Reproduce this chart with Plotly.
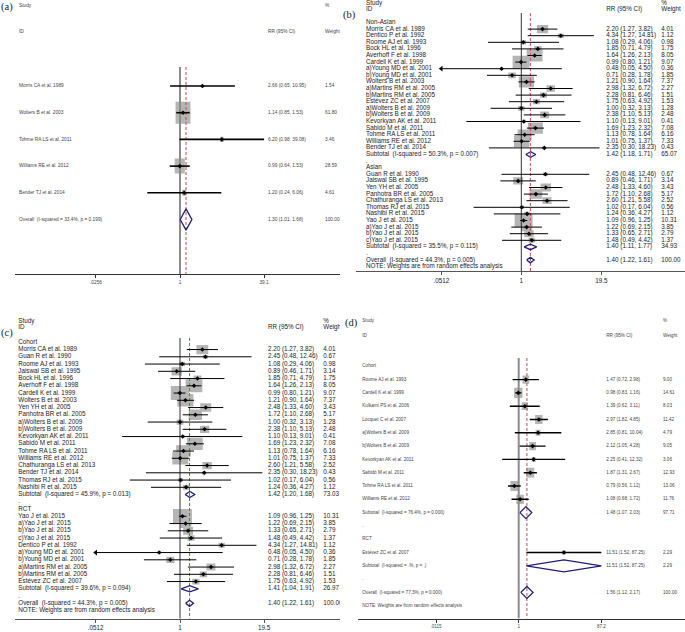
import math
import plotly.graph_objects as go

W, H = 685, 632

# ---------------- data ----------------
# studies shared by panels (b) and (c)
bc_names = ["Morris CA et al. 1989", "Dentico P et al. 1992", "Roome AJ et al. 1993",
            "Bock HL et al. 1996", "Averhoff F et al. 1998", "Cardell K et al. 1999",
            "a)Young MD et al. 2001", "b)Young MD et al. 2001", "Wolters B et al. 2003",
            "a)Martins RM et al. 2005", "b)Martins RM et al. 2005", "Estévez ZC et al. 2007",
            "a)Wolters B et al. 2009", "b)Wolters B et al. 2009", "Kevorkyan AK et al. 2011",
            "Sabidó M et al. 2011", "Tohme RA LS et al. 2011", "Williams RE et al. 2012",
            "Bender TJ et al. 2014", "Guan R et al. 1990", "Jaiswal SB et al. 1995",
            "Yen YH et al. 2005", "Panhotra BR et al. 2005", "Chathuranga LS et al. 2013",
            "Thomas RJ et al. 2015", "Nashibi R et al. 2015", "Yao J et al. 2015",
            "a)Yao J et al. 2015", "b)Yao J et al. 2015", "c)Yao J et al. 2015"]
bc_rr = [2.20, 4.34, 1.08, 1.85, 1.64, 0.99, 0.48, 0.71, 1.21, 2.98, 2.28, 1.75, 1.00, 2.38,
         1.10, 1.69, 1.13, 1.01, 2.35, 2.45, 0.89, 2.48, 1.72, 2.60, 1.02, 1.24, 1.09, 1.22,
         1.33, 1.48]
bc_lo = [1.27, 1.27, 0.29, 0.71, 1.26, 0.80, 0.05, 0.28, 0.90, 1.32, 0.81, 0.63, 0.32, 1.10,
         0.13, 1.23, 0.78, 0.75, 0.30, 0.48, 0.46, 1.33, 1.10, 1.21, 0.17, 0.36, 0.96, 0.69,
         0.65, 0.49]
bc_hi = [3.82, 14.81, 4.06, 4.79, 2.13, 1.21, 4.50, 1.78, 1.64, 6.72, 6.46, 4.92, 3.13, 5.13,
         9.01, 2.32, 1.64, 1.37, 18.23, 12.46, 1.71, 4.60, 2.68, 5.58, 6.04, 4.27, 1.25, 2.15,
         2.71, 4.42]
bc_wt = [4.01, 1.12, 0.98, 1.75, 8.05, 9.07, 0.36, 1.85, 7.37, 2.27, 1.51, 1.53, 1.28, 2.48,
         0.41, 7.08, 6.16, 7.33, 0.43, 0.67, 3.14, 3.43, 5.17, 2.52, 0.56, 1.12, 10.31, 3.85,
         2.79, 1.37]

# panel (b): by region
b_groups = ["Non-Asian", "Asian"]
b_members = [bc_names[0:19], bc_names[19:30]]
b_pool_labels = ["Subtotal  (I-squared = 50.3%, p = 0.007)",
                 "Subtotal  (I-squared = 35.5%, p = 0.115)",
                 "Overall  (I-squared = 44.3%, p = 0.005)"]
b_pool_rr = [1.42, 1.40, 1.40]
b_pool_lo = [1.18, 1.11, 1.22]
b_pool_hi = [1.71, 1.77, 1.61]
b_pool_wt = [65.07, 34.93, 100.00]

# panel (c): by design
c_groups = ["Cohort", "RCT"]
c_members = [["Morris CA et al. 1989", "Guan R et al. 1990", "Roome AJ et al. 1993",
              "Jaiswal SB et al. 1995", "Bock HL et al. 1996", "Averhoff F et al. 1998",
              "Cardell K et al. 1999", "Wolters B et al. 2003", "Yen YH et al. 2005",
              "Panhotra BR et al. 2005", "a)Wolters B et al. 2009", "b)Wolters B et al. 2009",
              "Kevorkyan AK et al. 2011", "Sabidó M et al. 2011", "Tohme RA LS et al. 2011",
              "Williams RE et al. 2012", "Chathuranga LS et al. 2013", "Bender TJ et al. 2014",
              "Thomas RJ et al. 2015", "Nashibi R et al. 2015"],
             ["Yao J et al. 2015", "a)Yao J et al. 2015", "b)Yao J et al. 2015",
              "c)Yao J et al. 2015", "Dentico P et al. 1992", "a)Young MD et al. 2001",
              "b)Young MD et al. 2001", "a)Martins RM et al. 2005", "b)Martins RM et al. 2005",
              "Estévez ZC et al. 2007"]]
c_pool_labels = ["Subtotal  (I-squared = 45.9%, p = 0.013)",
                 "Subtotal  (I-squared = 39.6%, p = 0.094)",
                 "Overall  (I-squared = 44.3%, p = 0.005)"]
c_pool_rr = [1.42, 1.41, 1.40]
c_pool_lo = [1.20, 1.04, 1.22]
c_pool_hi = [1.68, 1.91, 1.61]
c_pool_wt = [73.03, 26.97, 100.00]

# panel (a)
a_names = ["Morris CA et al. 1989", "Wolters B et al. 2003", "Tohme RA LS et al. 2011",
           "Williams RE et al. 2012", "Bender TJ et al. 2014"]
a_rr = [2.66, 1.14, 6.20, 0.99, 1.20]
a_lo = [0.65, 0.85, 0.98, 0.64, 0.24]
a_hi = [10.95, 1.53, 39.08, 1.53, 6.06]
a_wt = [1.54, 61.80, 3.46, 28.59, 4.61]
a_pool_labels = ["Overall  (I-squared = 33.4%, p = 0.199)"]
a_pool_rr = [1.30]
a_pool_lo = [1.01]
a_pool_hi = [1.68]
a_pool_wt = [100.00]

# panel (d)
d_names = ["Roome AJ et al. 1993", "Cardell K et al. 1999", "Kulkarni PS et al. 2006",
           "Locquet C et al. 2007", "a)Wolters B et al. 2009", "b)Wolters B et al. 2009",
           "Kevorkyan AK et al. 2011", "Sabidó M et al. 2011", "Tohme RA LS et al. 2011",
           "Williams RE et al. 2012", "Estévez ZC et al. 2007"]
d_rr = [1.47, 0.98, 1.39, 2.97, 2.85, 2.12, 2.25, 1.87, 0.79, 1.08, 11.51]
d_lo = [0.72, 0.83, 0.62, 1.82, 0.81, 1.05, 0.41, 1.31, 0.56, 0.68, 1.52]
d_hi = [2.98, 1.16, 3.11, 4.85, 10.04, 4.28, 12.32, 2.67, 1.12, 1.72, 87.25]
d_wt = [9.00, 14.61, 8.03, 11.42, 4.79, 9.05, 3.06, 12.93, 13.06, 11.76, 2.29]
d_groups = ["Cohort", "RCT"]
d_members = [d_names[0:10], d_names[10:11]]
d_pool_labels = ["Subtotal  (I-squared = 76.4%, p = 0.000)",
                 "Subtotal  (I-squared = .%, p = .)",
                 "Overall  (I-squared = 77.3%, p = 0.000)"]
d_pool_rr = [1.48, 11.51, 1.56]
d_pool_lo = [1.07, 1.52, 1.12]
d_pool_hi = [2.03, 87.25, 2.17]
d_pool_wt = [97.71, 2.29, 100.00]

# axis ticks
a_tickvals = [0.0256, 1, 39.1]
a_ticktext = [".0256", "1", "39.1"]
b_tickvals = [0.0512, 1, 19.5]
b_ticktext = [".0512", "1", "19.5"]
c_tickvals = [0.0512, 1, 19.5]
c_ticktext = [".0512", "1", "19.5"]
d_tickvals = [0.0115, 1, 87.2]
d_ticktext = [".0115", "1", "87.2"]

note_text = "NOTE: Weights are from random effects analysis"


# ---------------- row builders ----------------
def build_rows(names, rr, lo, hi, wt, groups, members, pl, prr, plo, phi, pwt, note):
    lookup = {n: (rr[i], lo[i], hi[i], wt[i]) for i, n in enumerate(names)}
    rows = []
    if groups is None:
        for n in names:
            rows.append(dict(kind="study", label=n, v=lookup[n]))
        rows.append(dict(kind="pool", label=pl[0], v=(prr[0], plo[0], phi[0], pwt[0])))
    else:
        for g, grp in enumerate(groups):
            rows.append(dict(kind="head", label=grp))
            for n in members[g]:
                rows.append(dict(kind="study", label=n, v=lookup[n]))
            rows.append(dict(kind="pool", label=pl[g], v=(prr[g], plo[g], phi[g], pwt[g])))
            rows.append(dict(kind="dot", label="."))
        k = len(groups)
        rows.append(dict(kind="pool", label=pl[k], v=(prr[k], plo[k], phi[k], pwt[k])))
    if note:
        rows.append(dict(kind="note", label=note_text))
    return rows


rows_a = build_rows(a_names, a_rr, a_lo, a_hi, a_wt, None, None,
                    a_pool_labels, a_pool_rr, a_pool_lo, a_pool_hi, a_pool_wt, False)
rows_b = build_rows(bc_names, bc_rr, bc_lo, bc_hi, bc_wt, b_groups, b_members,
                    b_pool_labels, b_pool_rr, b_pool_lo, b_pool_hi, b_pool_wt, True)
rows_c = build_rows(bc_names, bc_rr, bc_lo, bc_hi, bc_wt, c_groups, c_members,
                    c_pool_labels, c_pool_rr, c_pool_lo, c_pool_hi, c_pool_wt, True)
rows_d = build_rows(d_names, d_rr, d_lo, d_hi, d_wt, d_groups, d_members,
                    d_pool_labels, d_pool_rr, d_pool_lo, d_pool_hi, d_pool_wt, True)

# ---------------- layout constants (pixels) ----------------
SANS = "Liberation Sans, Arial, sans-serif"
cfg_a = dict(letter="(a)", left=0, right=340, top=0, axis=274, xl=15, xr=340, px1=180, ppd=52.8,
             y0=86, s=26.7, line_top=67, col_label=19, col_rr=268, col_wt=325,
             study_y=6, id_y=32, let_x=1, let_y=7, kw=1.9, kh=2.8, dia=0.40,
             font=SANS, fsize=4.8, ci_w=1.6, null_c="#8c8c8c", null_w=2, axis_c="#333333",
             txt_c="#444444", pt=3.5)
cfg_b = dict(letter="(b)", left=343, right=685, top=0, axis=271, xl=356, xr=685, px1=521.3, ppd=62.0,
             y0=22.5, s=6.6, line_top=13, col_label=366, col_rr=606.3, col_wt=661.3,
             study_y=3.3, id_y=9, let_x=343, let_y=15, kw=5.6, kh=4.2, dia=0.42,
             font=SANS, fsize=6.3, ci_w=1, null_c="#333333", null_w=1, axis_c="#555555",
             txt_c="#222222", pt=3.5)
cfg_c = dict(letter="(c)", left=0, right=340, top=316, axis=618.7, xl=15, xr=340, px1=180, ppd=65.3,
             y0=342.3, s=7.25, line_top=338, col_label=18.3, col_rr=268, col_wt=323.3,
             study_y=321.3, id_y=327, let_x=1, let_y=333, kw=5.9, kh=4.6, dia=0.42,
             font=SANS, fsize=6.3, ci_w=1, null_c="#333333", null_w=1, axis_c="#555555",
             txt_c="#222222", pt=3.5)
cfg_d = dict(letter="(d)", left=343, right=685, top=316, axis=618.5, xl=358, xr=685, px1=518.7, ppd=42.6,
             y0=366.3, s=13.3, line_top=358, col_label=362.3, col_rr=606.3, col_wt=663,
             study_y=321.3, id_y=336.3, let_x=345, let_y=323, kw=2.2, kh=2.7, dia=0.45,
             font=SANS, fsize=4.6, ci_w=1.4, null_c="#8c8c8c", null_w=2, axis_c="#333333",
             txt_c="#444444", pt=3.5)

fig = go.Figure()
axes = {}
NAVY = "#1f1f78"
RED = "#c0504d"


def add_panel(k, cfg, rows, tickvals, ticktext):
    xd, xt, ya = "x%d" % (2 * k - 1), "x%d" % (2 * k), "y%d" % k
    y0, s = cfg["y0"], cfg["s"]

    def r(py):
        return (py - y0) / s

    lo_log = (cfg["xl"] - cfg["px1"]) / cfg["ppd"]
    hi_log = (cfg["xr"] - cfg["px1"]) / cfg["ppd"]
    tfont = dict(family=cfg["font"], size=cfg["fsize"], color=cfg["txt_c"])
    axes["xaxis%d" % (2 * k - 1)] = dict(
        type="log", domain=[cfg["xl"] / W, cfg["xr"] / W], range=[lo_log, hi_log], anchor=ya,
        showline=True, linecolor=cfg["axis_c"], linewidth=1, ticks="outside", ticklen=3,
        tickcolor=cfg["axis_c"], tickwidth=1, tickvals=tickvals, ticktext=ticktext,
        tickfont=tfont, showgrid=False, zeroline=False, fixedrange=True)
    axes["xaxis%d" % (2 * k)] = dict(
        domain=[cfg["left"] / W, cfg["right"] / W], range=[cfg["left"], cfg["right"]],
        anchor=ya, visible=False, fixedrange=True)
    axes["yaxis%d" % k] = dict(
        domain=[1 - cfg["axis"] / H, 1 - cfg["top"] / H], range=[r(cfg["axis"]), r(cfg["top"])],
        anchor=xd, visible=False, fixedrange=True)

    tmin, tmax = tickvals[0], tickvals[-1]
    common = dict(xaxis=xd, yaxis=ya, hoverinfo="skip", showlegend=False)

    # boxes
    bx, by = [], []
    for i, row in enumerate(rows):
        if row["kind"] != "study":
            continue
        rr, lo, hi, w = row["v"]
        hw = cfg["kw"] * math.sqrt(w) / 2 / cfg["ppd"]
        hh = cfg["kh"] * math.sqrt(w) / 2 / s
        xa, xb = rr * 10 ** (-hw), rr * 10 ** hw
        bx += [xa, xb, xb, xa, xa, None]
        by += [i - hh, i - hh, i + hh, i + hh, i - hh, None]
    fig.add_trace(go.Scatter(x=bx, y=by, mode="lines", fill="toself", fillcolor="#b5b5b5",
                             line=dict(width=0, color="#b5b5b5"), **common))

    # null line and overall line
    overall = [row for row in rows if row["kind"] == "pool"][-1]["v"][0]
    ytop, ybot = r(cfg["line_top"]), r(cfg["axis"])
    fig.add_trace(go.Scatter(x=[1, 1], y=[ytop, ybot], mode="lines",
                             line=dict(color=cfg["null_c"], width=cfg["null_w"]), **common))
    fig.add_trace(go.Scatter(x=[overall, overall], y=[ytop, ybot], mode="lines",
                             line=dict(color=RED, width=1, dash="3px,2px"), **common))

    # confidence intervals
    cx, cy, lx, ly, rx, ry, px, py = [], [], [], [], [], [], [], []
    for i, row in enumerate(rows):
        if row["kind"] != "study":
            continue
        rr, lo, hi, w = row["v"]
        a = lo if lo >= tmin * 0.99 else tmin
        b = hi if hi <= tmax * 1.01 else tmax
        if lo < tmin * 0.99:
            lx.append(tmin); ly.append(i)
        if hi > tmax * 1.01:
            rx.append(tmax); ry.append(i)
        cx += [a, b, None]
        cy += [i, i, None]
        px.append(rr); py.append(i)
    fig.add_trace(go.Scatter(x=cx, y=cy, mode="lines",
                             line=dict(color="black", width=cfg["ci_w"]), **common))
    if lx:
        fig.add_trace(go.Scatter(x=lx, y=ly, mode="markers",
                                 marker=dict(symbol="triangle-left", size=5, color="black"), **common))
    if rx:
        fig.add_trace(go.Scatter(x=rx, y=ry, mode="markers",
                                 marker=dict(symbol="triangle-right", size=5, color="black"), **common))
    fig.add_trace(go.Scatter(x=px, y=py, mode="markers",
                             marker=dict(symbol="diamond", size=cfg["pt"], color="black"), **common))

    # pooled diamonds
    dx, dy = [], []
    for i, row in enumerate(rows):
        if row["kind"] != "pool":
            continue
        rr, lo, hi, w = row["v"]
        h = cfg["dia"]
        dx += [lo, rr, hi, rr, lo, None]
        dy += [i, i - h, i, i + h, i, None]
    fig.add_trace(go.Scatter(x=dx, y=dy, mode="lines",
                             line=dict(color=NAVY, width=1.3), **common))

    # text columns
    tcommon = dict(xaxis=xt, yaxis=ya, hoverinfo="skip", showlegend=False, mode="text",
                   textposition="middle right", textfont=tfont, cliponaxis=True,
                   marker=dict(size=0))
    lab_y, lab_t, rr_y, rr_t, wt_t = [], [], [], [], []
    for i, row in enumerate(rows):
        lab_y.append(i)
        lab_t.append(row["label"].replace("  ", "\u00a0 "))
        if row["kind"] in ("study", "pool"):
            rr, lo, hi, w = row["v"]
            rr_y.append(i)
            rr_t.append("%.2f (%.2f, %.2f)" % (rr, lo, hi))
            wt_t.append("%.2f" % w)
    fig.add_trace(go.Scatter(x=[cfg["col_label"]] * len(lab_y), y=lab_y, text=lab_t, **tcommon))
    fig.add_trace(go.Scatter(x=[cfg["col_rr"]] * len(rr_y), y=rr_y, text=rr_t, **tcommon))
    fig.add_trace(go.Scatter(x=[cfg["col_wt"]] * len(rr_y), y=rr_y, text=wt_t, **tcommon))
    hx = [cfg["col_label"], cfg["col_label"], cfg["col_rr"], cfg["col_wt"], cfg["col_wt"]]
    hy = [r(cfg["study_y"]), r(cfg["id_y"]), r(cfg["id_y"]), r(cfg["study_y"]), r(cfg["id_y"])]
    fig.add_trace(go.Scatter(x=hx, y=hy, text=["Study", "ID", "RR (95% CI)", "%", "Weight"], **tcommon))
    lc = dict(tcommon)
    lc["textfont"] = dict(family="Liberation Serif, Times New Roman, serif", size=10.5, color="#222222")
    fig.add_trace(go.Scatter(x=[cfg["let_x"]], y=[r(cfg["let_y"])], text=[cfg["letter"]], **lc))


add_panel(1, cfg_a, rows_a, a_tickvals, a_ticktext)
add_panel(2, cfg_b, rows_b, b_tickvals, b_ticktext)
add_panel(3, cfg_c, rows_c, c_tickvals, c_ticktext)
add_panel(4, cfg_d, rows_d, d_tickvals, d_ticktext)

fig.update_layout(width=W, height=H, margin=dict(l=0, r=0, t=0, b=0),
                  paper_bgcolor="white", plot_bgcolor="rgba(0,0,0,0)", showlegend=False, **axes)
fig.write_html("out.html", config={"displayModeBar": False, "staticPlot": True},
               post_script="document.body.style.margin='0px';")
